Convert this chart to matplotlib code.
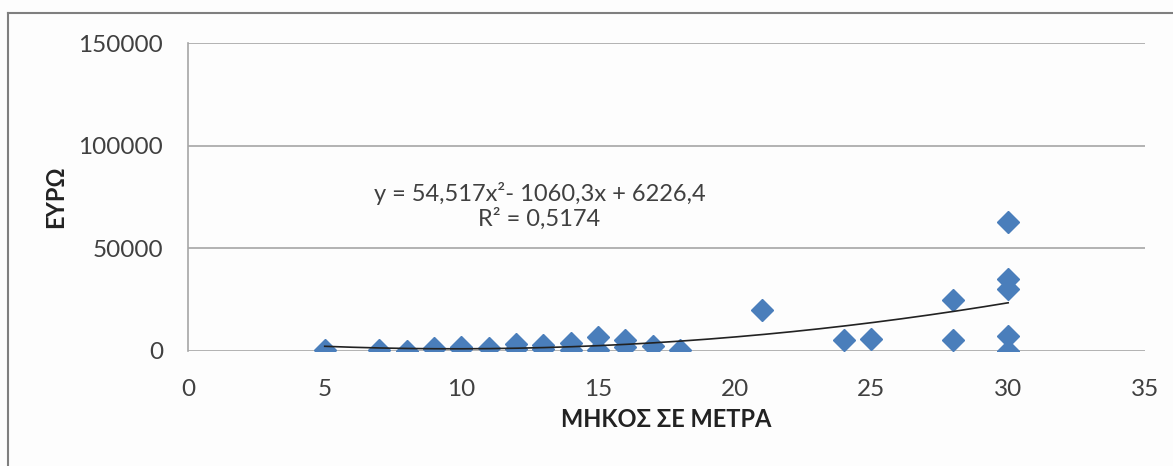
import numpy as np
import matplotlib.pyplot as plt
from matplotlib.lines import Line2D

plt.rcParams['font.family'] = ['Lato', 'DejaVu Sans']

# length in metres vs price in euro
length_m = [5, 7, 8, 9, 9, 10, 10, 11, 12, 12, 13, 13, 14, 14, 15, 15,
            16, 16, 17, 18, 21, 24, 25, 28, 28, 30, 30, 30, 30, 30]
price_eur = [500, 300, 200, 1000, 1500, 800, 1800, 1500, 800, 3500, 1200, 3000,
             500, 4000, 700, 7000, 2000, 5500, 2500, 300, 20000, 5500, 6000,
             25000, 5500, 63000, 35000, 30000, 7500, 0]

# Excel polynomial trendline (order 2) as shown on the chart
trend_coef = [54.517, -1060.3, 6226.4]
trend_text = "y = 54,517x²- 1060,3x + 6226,4\nR² = 0,5174"

x_ticks = [0, 5, 10, 15, 20, 25, 30, 35]
y_ticks = [0, 50000, 100000, 150000]

TEXT_COLOR = "#404040"
GRID_COLOR = "#a6a6a6"
MARKER_COLOR = "#4A7EBB"

fig = plt.figure(figsize=(11.73, 4.66), dpi=100, facecolor="#fdfdfd")
ax = fig.add_axes([0.1603, 0.2468, 0.976 - 0.1603, 0.9077 - 0.2468])
ax.set_facecolor("#fdfdfd")

ax.plot(length_m, price_eur, linestyle="none", marker="D", markersize=11,
        color=MARKER_COLOR, zorder=3)

xs = np.linspace(min(length_m), max(length_m), 200)
ax.plot(xs, np.polyval(trend_coef, xs), color="#222222", linewidth=1.2, zorder=4)

ax.text(12.85, 70500, trend_text, ha="center", va="center", fontsize=17,
        color=TEXT_COLOR, linespacing=1.15)

ax.set_xlim(0, 35)
ax.set_ylim(0, 150000)
ax.set_xticks(x_ticks)
ax.set_yticks(y_ticks)
ax.tick_params(length=0, labelsize=17.5, labelcolor=TEXT_COLOR)
ax.tick_params(axis="x", pad=20)
ax.tick_params(axis="y", pad=18)
ax.grid(axis="y", color=GRID_COLOR, linewidth=1.2)
ax.set_axisbelow(True)
for side in ["top", "right", "bottom"]:
    ax.spines[side].set_visible(False)
ax.spines["left"].set_color(GRID_COLOR)
ax.spines["left"].set_linewidth(1.2)

ax.set_xlabel("ΜΗΚΟΣ ΣΕ ΜΕΤΡΑ", fontsize=17, fontweight="bold", color="#222222",
              labelpad=6)
ax.set_ylabel("ΕΥΡΩ", fontsize=17, fontweight="bold", color="#222222", labelpad=8)

# chart-area frame (only the left and top edges are visible in the crop)
fig.add_artist(Line2D([8 / 1173, 8 / 1173], [0, 1 - 13 / 466],
                      transform=fig.transFigure, color="#7f7f7f", linewidth=1.5))
fig.add_artist(Line2D([8 / 1173, 1], [1 - 13 / 466, 1 - 13 / 466],
                      transform=fig.transFigure, color="#7f7f7f", linewidth=1.5))

fig.savefig("out.png", dpi=100, facecolor=fig.get_facecolor())
